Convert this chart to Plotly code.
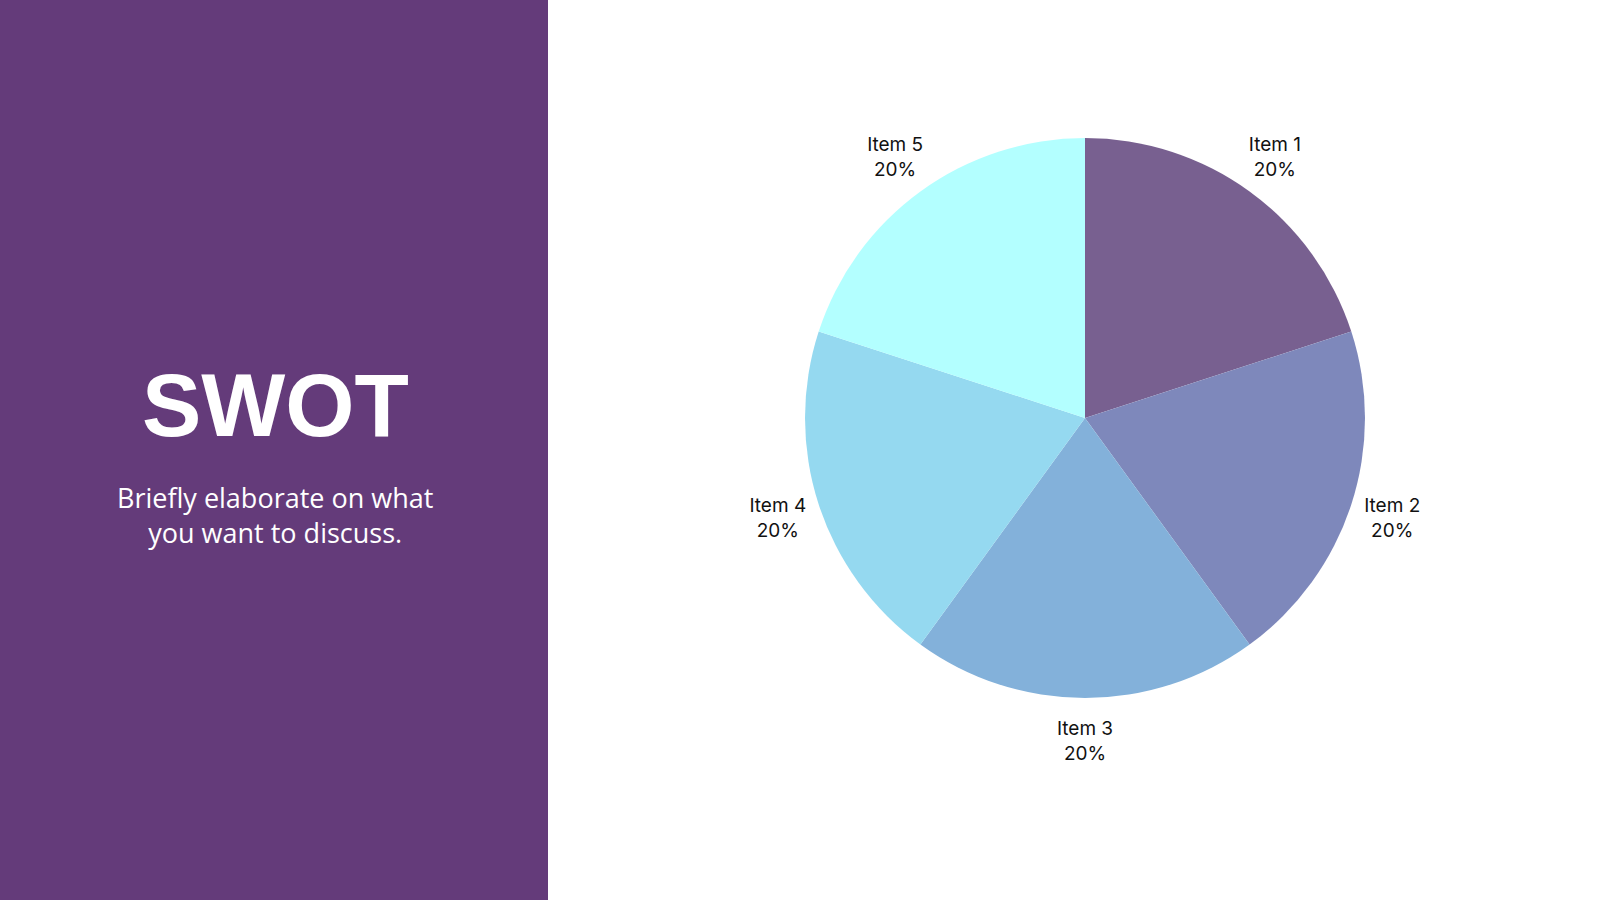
import plotly.graph_objects as go

labels = ["Item 1", "Item 2", "Item 3", "Item 4", "Item 5"]
values = [20, 20, 20, 20, 20]
colors = ["#786090", "#7e88bb", "#83b1da", "#95d9f0", "#b3ffff"]

title_text = "SWOT"
subtitle_text = "Briefly elaborate on what<br>you want to discuss."

W, H = 1600, 900
R = 280          # pie radius (px)
R_LAB = 380      # outer radius of transparent label ring (px)
HOLE = 0.70      # label ring hole -> labels centred at (1+HOLE)/2*R_LAB
cx, cy = 1085 / W, 1 - 418 / H

fig = go.Figure()

# coloured pie
fig.add_trace(go.Pie(
    labels=labels,
    values=values,
    marker=dict(colors=colors, line=dict(width=0)),
    sort=False,
    direction="clockwise",
    rotation=0,
    textinfo="none",
    showlegend=False,
    hoverinfo="label+percent",
    domain=dict(x=[cx - R / W, cx + R / W], y=[cy - R / H, cy + R / H]),
))

# transparent ring that carries the centred labels
fig.add_trace(go.Pie(
    labels=labels,
    values=values,
    hole=HOLE,
    marker=dict(colors=["rgba(0,0,0,0)"] * len(labels), line=dict(width=0)),
    sort=False,
    direction="clockwise",
    rotation=0,
    textposition="inside",
    insidetextorientation="horizontal",
    texttemplate="%{label}<br>%{percent:.0%}",
    textfont=dict(family="Inter", size=19, color="#111111"),
    showlegend=False,
    hoverinfo="skip",
    domain=dict(x=[cx - R_LAB / W, cx + R_LAB / W], y=[cy - R_LAB / H, cy + R_LAB / H]),
))

fig.add_shape(type="rect", xref="paper", yref="paper", x0=0, x1=548 / W, y0=0, y1=1,
              fillcolor="#643b7a", line=dict(width=0), layer="below")

fig.add_annotation(x=275 / W, y=1 - 405 / H, xref="paper", yref="paper",
                   text="<b>" + title_text + "</b>", showarrow=False,
                   font=dict(family="Liberation Sans", size=89, color="#ffffff"),
                   xanchor="center", yanchor="middle")
fig.add_annotation(x=275 / W, y=1 - 515 / H, xref="paper", yref="paper",
                   text=subtitle_text, showarrow=False,
                   font=dict(family="Open Sans", size=27, color="#ffffff"),
                   xanchor="center", yanchor="middle", align="center")

fig.update_layout(width=W, height=H, margin=dict(l=0, r=0, t=0, b=0),
                  paper_bgcolor="#ffffff", plot_bgcolor="#ffffff")

fig.write_html("out.html", config={"displayModeBar": False},
               post_script="document.body.style.margin='0';document.body.style.overflow='hidden';")
